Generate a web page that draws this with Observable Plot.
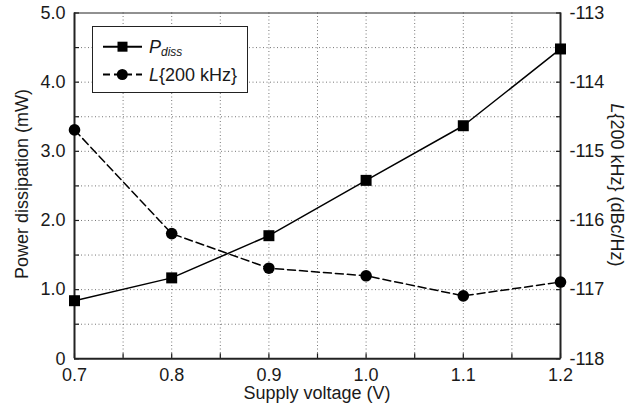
<!DOCTYPE html>
<html><head><meta charset="utf-8">
<script src="https://cdn.jsdelivr.net/npm/d3@7"></script>
<script src="https://cdn.jsdelivr.net/npm/@observablehq/plot@0.6"></script>
<style>
body{margin:0;background:#fff;}
#chart svg{font-family:"Liberation Sans",Arial,Helvetica,sans-serif;}
</style>
</head><body><div id="chart"></div>
<script>
const voltage = [0.7, 0.8, 0.9, 1.0, 1.1, 1.2];
const pdiss = [0.84, 1.17, 1.78, 2.58, 3.37, 4.48];
const phaseNoise = [-114.69, -116.19, -116.69, -116.80, -117.09, -116.89];
const xTicks = [0.7, 0.8, 0.9, 1.0, 1.1, 1.2];
const xMinor = [0.75, 0.85, 0.95, 1.05, 1.15];
const yLeftTicks = [0, 1, 2, 3, 4, 5];
const yMinor = [0.5, 1.5, 2.5, 3.5, 4.5];
const yRightTicks = [-118, -117, -116, -115, -114, -113];
const rightMin = -118;

const W = 634, H = 412;
const margin = {left: 74, right: 74, top: 12.5, bottom: 53.7};

const pRows = voltage.map((v, i) => ({v, y: pdiss[i]}));
const lRows = voltage.map((v, i) => ({v, y: phaseNoise[i] - rightMin}));
const gridX = [...xMinor, ...xTicks.slice(1, -1)];
const gridY = [...yMinor, ...yLeftTicks.slice(1, -1)];

const chart = Plot.plot({
  width: W, height: H,
  marginLeft: margin.left, marginRight: margin.right, marginTop: margin.top, marginBottom: margin.bottom,
  style: {fontSize: "18px", fontFamily: "'Liberation Sans', Arial, sans-serif", color: "#1a1a1a"},
  x: {domain: [0.7, 1.2]},
  y: {domain: [0, 5]},
  marks: [
    Plot.gridX(gridX, {stroke: "#777", strokeOpacity: 1, strokeDasharray: "1,2.5", strokeWidth: 1}),
    Plot.gridY(gridY, {stroke: "#777", strokeOpacity: 1, strokeDasharray: "1,2.5", strokeWidth: 1}),
    Plot.axisX([...xTicks, ...xMinor], {tickSize: -5, tickFormat: () => "", label: null, strokeWidth: 1.2}),
    Plot.axisY([...yLeftTicks, ...yMinor], {tickSize: -5, tickFormat: () => "", label: null, strokeWidth: 1.2}),
    Plot.axisY([...yLeftTicks, ...yMinor], {anchor: "right", tickSize: -5, tickFormat: () => "", label: null, strokeWidth: 1.2}),
    Plot.axisX(xTicks, {tickSize: 0, tickPadding: 9, tickFormat: d => d.toFixed(1), label: null}),
    Plot.axisY(yLeftTicks, {tickSize: 0, tickPadding: 9, tickFormat: d => d === 0 ? "0" : d.toFixed(1), label: null}),
    Plot.axisY(yRightTicks.map(d => d - rightMin), {anchor: "right", tickSize: 0, tickPadding: 9, tickFormat: d => String(d + rightMin), label: null}),
    Plot.ruleY([5], {stroke: "#222", strokeWidth: 1}),
    Plot.ruleY([0], {stroke: "#222", strokeWidth: 2}),
    Plot.ruleX([0.7, 1.2], {stroke: "#222", strokeWidth: 2}),
    Plot.line(pRows, {x: "v", y: "y", stroke: "#000", strokeWidth: 1.5}),
    Plot.line(lRows, {x: "v", y: "y", stroke: "#000", strokeWidth: 1.5, strokeDasharray: "8,4"}),
    Plot.dot(pRows, {x: "v", y: "y", symbol: "square", r: 6.2, fill: "#000", stroke: "none"}),
    Plot.dot(lRows, {x: "v", y: "y", symbol: "circle", r: 5.8, fill: "#000", stroke: "none"})
  ]
});
document.getElementById("chart").appendChild(chart);

const svg = d3.select(chart);
const ff = "'Liberation Sans', Arial, sans-serif";
// axis titles
svg.append("text").attr("transform", `translate(317,399)`)
  .attr("text-anchor", "middle").attr("font-size", 18).attr("font-family", ff).attr("fill", "#1a1a1a")
  .text("Supply voltage (V)");
svg.append("text").attr("transform", `translate(28,184)rotate(-90)`)
  .attr("text-anchor", "middle").attr("font-size", 18).attr("font-family", ff).attr("fill", "#1a1a1a")
  .text("Power dissipation (mW)");
const rt = svg.append("text").attr("transform", `translate(611,185)rotate(90)`)
  .attr("text-anchor", "middle").attr("font-size", 18).attr("font-family", ff).attr("fill", "#1a1a1a");
rt.append("tspan").attr("font-style", "italic").text("L");
rt.append("tspan").text("{200 kHz} (dBc/Hz)");

// legend
const lg = svg.append("g");
lg.append("rect").attr("x", 92.5).attr("y", 26.5).attr("width", 155).attr("height", 66)
  .attr("fill", "#fff").attr("stroke", "#222").attr("stroke-width", 1);
const rows = [
  {y: 46.7, dash: null, sym: "square", label: [["P", "italic", null], ["diss", "italic", "sub"]]},
  {y: 74.5, dash: "7,4", sym: "circle", label: [["L", "italic", null], ["{200 kHz}", "normal", null]]}
];
rows.forEach(r => {
  lg.append("line").attr("x1", 103).attr("x2", 142).attr("y1", r.y).attr("y2", r.y)
    .attr("stroke", "#000").attr("stroke-width", 2).attr("stroke-dasharray", r.dash);
  if (r.sym === "square") lg.append("rect").attr("x", 117.5).attr("y", r.y - 5).attr("width", 10).attr("height", 10).attr("fill", "#000");
  else lg.append("circle").attr("cx", 122.3).attr("cy", r.y).attr("r", 5.5).attr("fill", "#000");
  const t = lg.append("text").attr("x", 149).attr("y", r.y + 6).attr("text-anchor", "start")
    .attr("font-size", 18).attr("font-family", ff).attr("fill", "#1a1a1a");
  r.label.forEach(([s, st, pos]) => {
    const ts = t.append("tspan").attr("font-style", st).text(s);
    if (pos === "sub") ts.attr("font-size", 12).attr("dy", 3);
  });
});
</script>
</body></html>
